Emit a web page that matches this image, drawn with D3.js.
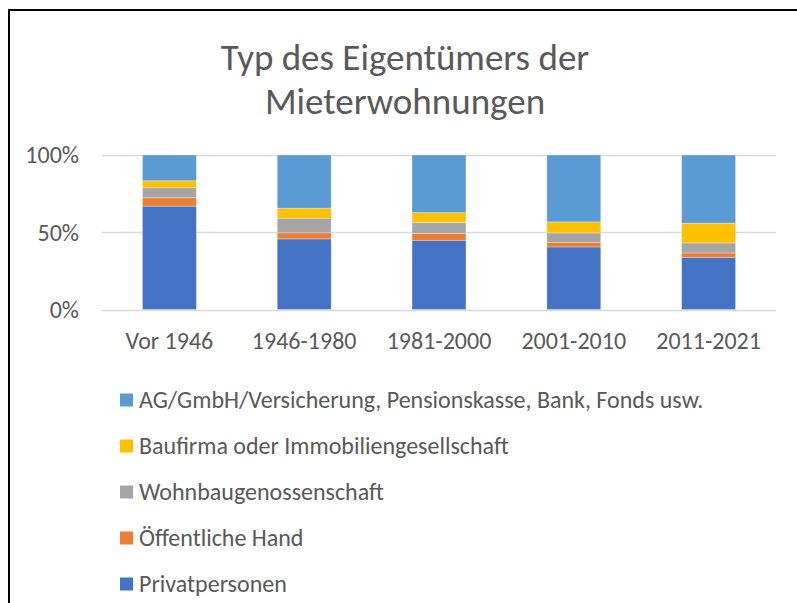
<!DOCTYPE html>
<html>
<head>
<meta charset="utf-8">
<script src="https://cdn.jsdelivr.net/npm/d3@7"></script>
<style>
  body { margin: 0; background: #fff; }
  text { font-family: Carlito, Calibri, "Open Sans", sans-serif; fill: #595959; }
</style>
</head>
<body>
<svg id="chart" width="797" height="603"></svg>
<script>
// data (shares in %)
const categories = ["Vor 1946", "1946-1980", "1981-2000", "2001-2010", "2011-2021"];
const privatpersonen = [66.9, 45.7, 44.8, 40.5, 33.8];
const oeffentlicheHand = [5.4, 3.9, 4.5, 3.0, 2.8];
const wohnbaugenossenschaft = [6.5, 9.5, 7.1, 6.1, 6.5];
const baufirma = [4.5, 6.5, 6.3, 7.1, 12.8];
const agGmbh = [16.7, 34.4, 37.3, 43.3, 44.1];
const yTicks = [0, 0.5, 1];

const seriesNames = [
  "Privatpersonen",
  "Öffentliche Hand",
  "Wohnbaugenossenschaft",
  "Baufirma oder Immobiliengesellschaft",
  "AG/GmbH/Versicherung, Pensionskasse, Bank, Fonds usw."
];
const seriesValues = [privatpersonen, oeffentlicheHand, wohnbaugenossenschaft, baufirma, agGmbh];
const colors = ["#4472C4", "#ED7D31", "#A5A5A5", "#FFC000", "#5B9BD5"];

// build rows for the stack, normalised to 100%
const rows = categories.map((c, i) => {
  const r = { cat: c };
  let total = 0;
  seriesNames.forEach((s, j) => total += seriesValues[j][i]);
  seriesNames.forEach((s, j) => r[s] = seriesValues[j][i] / total);
  return r;
});
const stacked = d3.stack().keys(seriesNames)(rows);

const svg = d3.select("#chart");

// chart border (only top and left visible in the window)
svg.append("rect")
  .attr("x", 9).attr("y", 10)
  .attr("width", 900).attr("height", 700)
  .attr("fill", "none")
  .attr("stroke", "#000")
  .attr("stroke-width", 2);

const x = d3.scaleBand().domain(categories).range([102, 776]).paddingInner(0.6).paddingOuter(0.3);
const y = d3.scaleLinear().domain([0, 1]).range([309.5, 155]);

// gridlines
svg.append("g")
  .selectAll("line")
  .data(yTicks)
  .enter()
  .append("line")
  .attr("x1", 102).attr("x2", 776)
  .attr("y1", d => Math.round(y(d)) + 0.5)
  .attr("y2", d => Math.round(y(d)) + 0.5)
  .attr("stroke", "#D9D9D9")
  .attr("stroke-width", 1.5);

// y tick labels
svg.append("g")
  .selectAll("text")
  .data(yTicks)
  .enter()
  .append("text")
  .attr("x", 79)
  .attr("y", d => y(d))
  .attr("dy", "0.35em")
  .attr("text-anchor", "end")
  .style("font-size", "24px")
  .text(d3.format(".0%"));

// bars
svg.append("g")
  .selectAll("g")
  .data(stacked)
  .enter()
  .append("g")
  .attr("fill", (d, i) => colors[i])
  .selectAll("rect")
  .data(d => d)
  .enter()
  .append("rect")
  .attr("x", d => x(d.data.cat))
  .attr("width", x.bandwidth())
  .attr("y", d => y(d[1]))
  .attr("height", d => y(d[0]) - y(d[1]))
  .attr("stroke", "#fff")
  .attr("stroke-opacity", 0.4)
  .attr("stroke-width", 0.75);

// category labels
svg.append("g")
  .selectAll("text")
  .data(categories)
  .enter()
  .append("text")
  .attr("x", d => x(d) + x.bandwidth() / 2)
  .attr("y", 341)
  .attr("dy", "0.35em")
  .attr("text-anchor", "middle")
  .style("font-size", "24px")
  .text(d => d);

// title
svg.append("g")
  .selectAll("text")
  .data(["Typ des Eigentümers der", "Mieterwohnungen"])
  .enter()
  .append("text")
  .attr("x", 405)
  .attr("y", (d, i) => 57 + i * 44)
  .attr("dy", "0.35em")
  .attr("text-anchor", "middle")
  .style("font-size", "37px")
  .text(d => d);

// legend, top entry is the top series
const legendOrder = seriesNames.map((s, i) => i).reverse();
const legend = svg.append("g")
  .selectAll("g")
  .data(legendOrder)
  .enter()
  .append("g")
  .attr("transform", (d, i) => "translate(120," + (400 + i * 46) + ")");

legend.append("rect")
  .attr("x", 0).attr("y", -6.5)
  .attr("width", 13).attr("height", 13)
  .attr("fill", d => colors[d]);

legend.append("text")
  .attr("x", 19)
  .attr("y", 0)
  .attr("dy", "0.35em")
  .style("font-size", "24px")
  .text(d => seriesNames[d]);
</script>
</body>
</html>
